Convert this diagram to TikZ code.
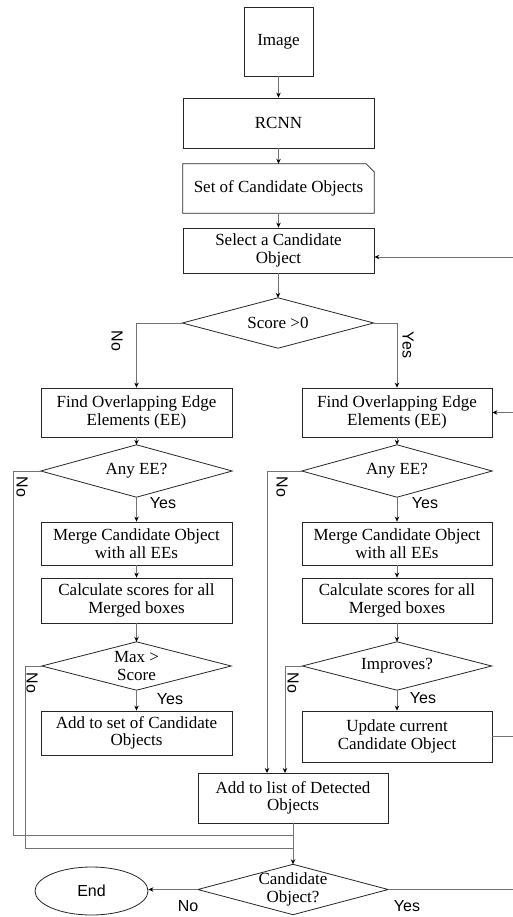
\documentclass[tikz,border=0pt]{standalone}
\usepackage{fontspec}
\setmainfont{Liberation Serif}
\newfontfamily\labfont{Liberation Sans}
\usetikzlibrary{arrows.meta,shapes.geometric,calc}

\tikzset{
  boxtext/.style={font=\fontsize{17}{17.5}\selectfont, align=center, inner sep=0pt},
  procbox/.style={boxtext, draw=black!85, line width=0.8pt, rectangle},
  decision/.style={boxtext, rectangle},
  shapeline/.style={draw=black!85, line width=0.8pt},
  flow/.style={draw=black!55, line width=0.8pt},
  arr/.style={flow, -{Stealth[length=5pt,width=4.5pt,color=black]}},
  lab/.style={font=\labfont\fontsize{16}{18}\selectfont, inner sep=0pt},
  vlab/.style={lab, rotate=-90},
}

\begin{document}
\begin{tikzpicture}[x=1pt,y=-1pt]
\useasboundingbox (0,0) rectangle (513,917);

% main column
\node[procbox, minimum width=69, minimum height=69] (img) at (278.5,41.5) {Image};
\node[procbox, minimum width=191, minimum height=50] (rcnn) at (278.5,123) {RCNN};
\node[boxtext, minimum width=191, minimum height=49] (set) at (278.5,188.5) {Set of Candidate Objects};
\draw[shapeline] (set.south west) -- (set.north west) -- ([xshift=-8pt]set.north east)
  -- ([yshift=-8pt]set.north east) -- (set.south east) -- cycle;
\node[procbox, minimum width=191, minimum height=45] (select) at (278.5,250.5) {Select a Candidate\\Object};
\node[decision, minimum width=191, minimum height=50] (score) at (278,323) {Score >0};

% left branch
\node[procbox, minimum width=191, minimum height=49] (findL) at (136.5,412.5) {Find Overlapping Edge\\Elements (EE)};
\node[decision, minimum width=191, minimum height=52] (anyL) at (136.5,471) {Any EE?};
\node[procbox, minimum width=191, minimum height=43] (mergeL) at (136.5,543.5) {Merge Candidate Object\\with all EEs};
\node[procbox, minimum width=191, minimum height=45] (calcL) at (136.5,600.5) {Calculate scores for all\\Merged boxes};
\node[decision, minimum width=189, minimum height=48] (maxL) at (136.5,666) {Max >\\Score};
\node[procbox, minimum width=191, minimum height=44] (addsetL) at (136.5,733) {Add to set of Candidate\\Objects};

% right branch
\node[procbox, minimum width=190, minimum height=49] (findR) at (397,412.5) {Find Overlapping Edge\\Elements (EE)};
\node[decision, minimum width=190, minimum height=52] (anyR) at (397,471) {Any EE?};
\node[procbox, minimum width=190, minimum height=43] (mergeR) at (397,543.5) {Merge Candidate Object\\with all EEs};
\node[procbox, minimum width=190, minimum height=45] (calcR) at (397,600.5) {Calculate scores for all\\Merged boxes};
\node[decision, minimum width=189, minimum height=48] (impR) at (397,666) {Improves?};
\node[procbox, minimum width=190, minimum height=51] (updR) at (397,736.5) {Update current\\Candidate Object};

% bottom
\node[procbox, minimum width=190, minimum height=50] (addlist) at (293,798) {Add to list of Detected\\Objects};
\node[decision, minimum width=190, minimum height=50] (cand) at (293,889.5) {Candidate\\Object?};
\node[draw=black!85, line width=0.8pt, ellipse, minimum width=113, minimum height=48, inner sep=0pt,
      font=\labfont\fontsize{16}{18}\selectfont] (end) at (91.5,891) {End};

% decision outlines
\foreach \d in {score,anyL,maxL,anyR,impR,cand}
  \draw[shapeline] (\d.west) -- (\d.north) -- (\d.east) -- (\d.south) -- cycle;

% junctions and off-page ends
\coordinate (jA) at (293,835);
\coordinate (jB) at (293,848);
\coordinate (inA) at (267,773);
\coordinate (inB) at (285,773);
\coordinate (eSel) at (513,257);
\coordinate (eFind) at (513,412.5);
\coordinate (eUpd) at (513,736.5);
\coordinate (eCand) at (513,889.5);

% main column connectors
\draw[arr] (img.south) -- (img.south |- rcnn.north);
\draw[arr] (rcnn.south -| img.south) -- (set.north -| img.south);
\draw[arr] (set.south -| img.south) -- (select.north -| img.south);
\draw[arr] (select.south -| score.north) -- (score.north);
\draw[arr] (eSel) -- (select.east |- eSel);

% score split
\draw[arr] (score.west) -| (findL.north);
\draw[arr] (score.east) -| (findR.north);
\node[vlab] at (117,341) {No};
\node[vlab] at (408,345) {Yes};

% left branch connectors
\draw[arr] (findL.south) -- (anyL.north);
\draw[arr] (anyL.south) -- (mergeL.north);
\draw[arr] (mergeL.south) -- (calcL.north);
\draw[arr] (calcL.south) -- (maxL.north);
\draw[arr] (maxL.south) -- (addsetL.north);
\draw[flow] (anyL.west) -- (13,471) |- (jA);
\draw[flow] (maxL.west) -- (25,666) |- (jB);
\node[lab] at (163,503) {Yes};
\node[lab] at (170,699) {Yes};
\node[vlab] at (22,487) {No};
\node[vlab] at (32,683) {No};

% right branch connectors
\draw[arr] (eFind) -- (findR.east);
\draw[arr] (findR.south) -- (anyR.north);
\draw[arr] (anyR.south) -- (mergeR.north);
\draw[arr] (mergeR.south) -- (calcR.north);
\draw[arr] (calcR.south) -- (impR.north);
\draw[arr] (impR.south) -- (updR.north);
\draw[flow] (updR.east) -- (eUpd);
\draw[arr] (anyR.west) -| (inA);
\draw[arr] (impR.west) -| (inB);
\node[lab] at (425,503) {Yes};
\node[lab] at (423,698) {Yes};
\node[vlab] at (282,487) {No};
\node[vlab] at (293,683) {No};

% final decision
\draw[arr] (addlist.south) -- (cand.north);
\draw[arr] (cand.west) -- (end.east |- cand.west);
\draw[flow] (cand.east) -- (eCand);
\node[lab] at (188,906) {No};
\node[lab] at (407,906) {Yes};
\end{tikzpicture}
\end{document}
